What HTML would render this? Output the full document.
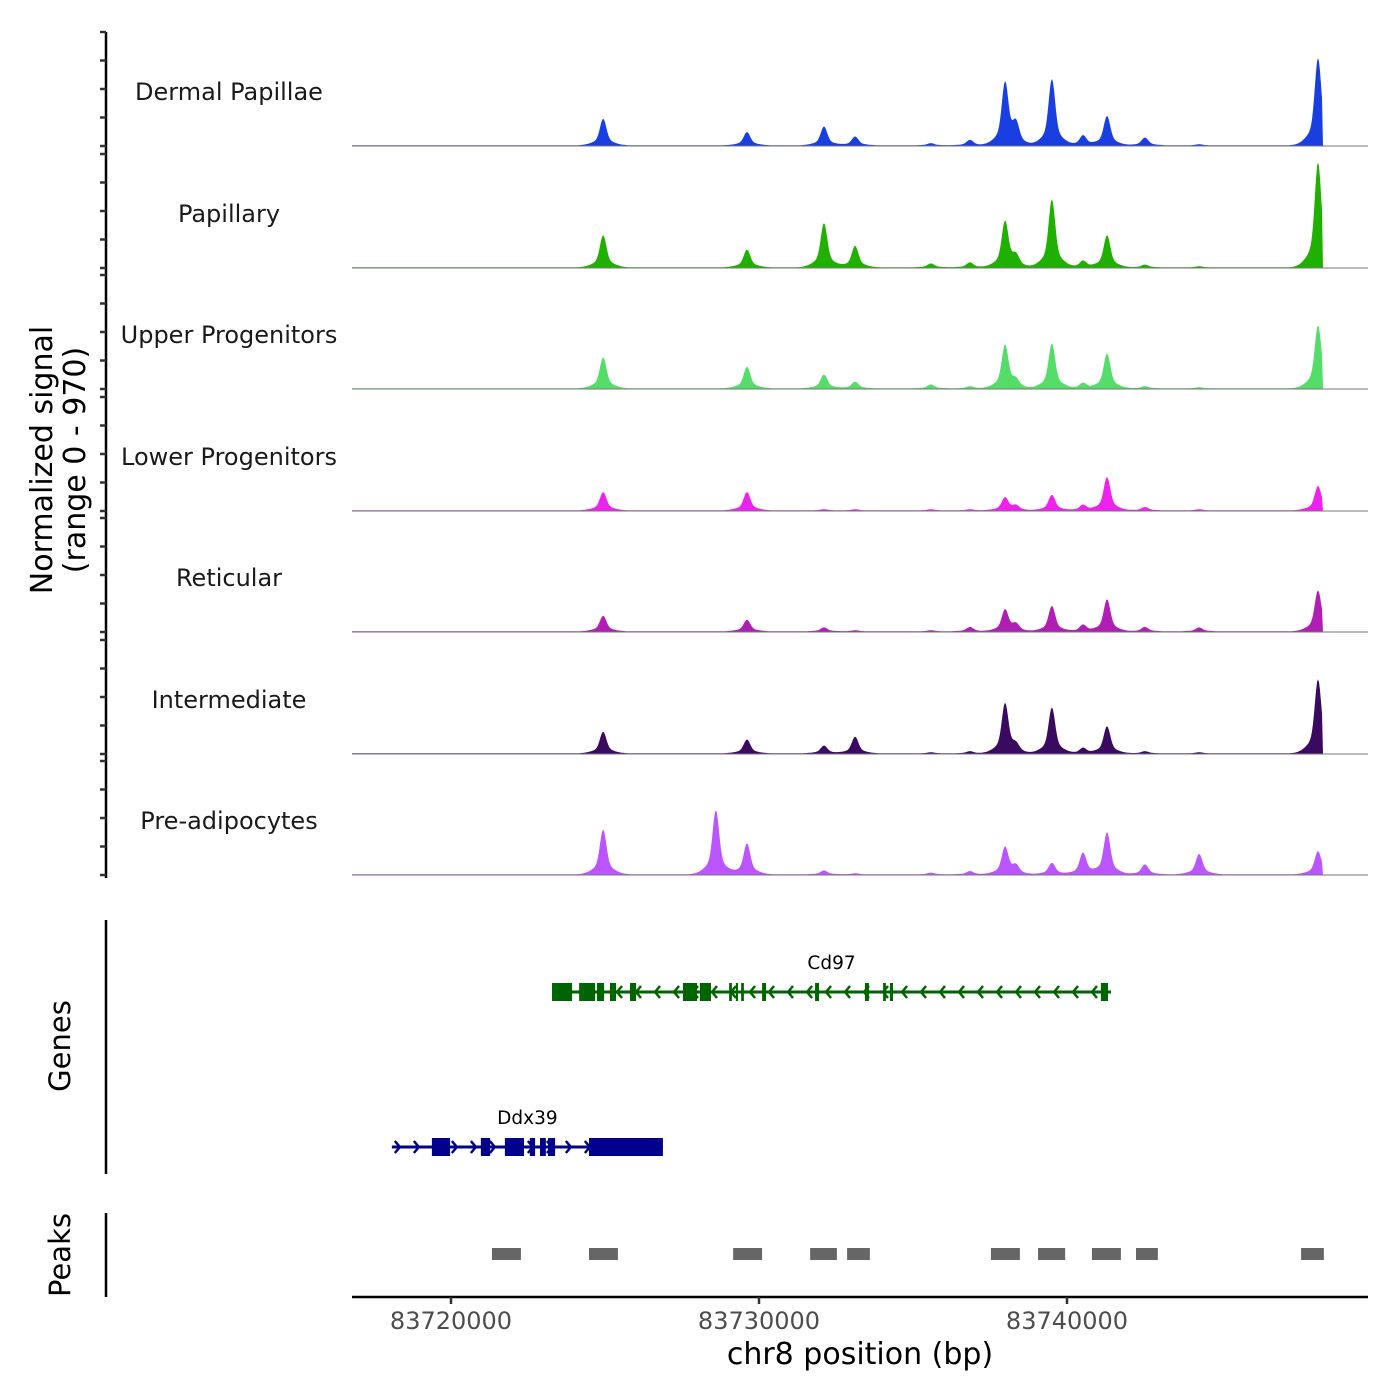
<!DOCTYPE html>
<html><head><meta charset="utf-8"><style>
body{margin:0;background:#fff}
svg{display:block;font-family:"DejaVu Sans","Liberation Sans",sans-serif}
</style></head><body>
<svg id="c" width="1400" height="1400" viewBox="0 0 1400 1400"></svg>
<script>
// ---- data (positions in kb relative to 83720000) ----
const tracks = ["Dermal Papillae","Papillary","Upper Progenitors","Lower Progenitors","Reticular","Intermediate","Pre-adipocytes"];
const trackColors = ["#1a3fe0","#1fb000","#55dd6a","#ee22ee","#b01eb5","#3a0a60","#bb55ff"];
const peakCenters = [4.94,8.60,9.61,12.11,13.12,15.58,16.85,17.99,18.34,19.51,20.52,21.30,22.53,24.29,28.15];
const dermalVals = [240,0,120,170,80,20,50,560,175,600,90,265,70,10,790];
const papillaryVals = [290,0,160,400,195,35,45,415,90,615,60,290,25,10,950];
const upperVals = [280,0,195,125,60,35,20,390,60,405,50,315,20,10,570];
const lowerVals = [165,0,165,10,10,10,10,115,40,140,50,300,30,10,220];
const reticularVals = [140,0,105,35,10,10,40,195,60,230,60,290,40,35,370];
const intermediateVals = [195,0,125,70,150,10,20,450,60,415,50,245,20,10,670];
const preadipoVals = [405,580,280,35,10,15,30,245,70,105,195,380,90,185,210];
const seriesVals = [dermalVals,papillaryVals,upperVals,lowerVals,reticularVals,intermediateVals,preadipoVals];
const xTicks = [0,10,20];
const xTickLabels = ["83720000","83730000","83740000"];
const yTicks = [0,250,500,750,1000];
const cd97Span = [3.28,21.43];
const cd97Exons = [[3.28,3.93],[4.16,4.68],[4.74,4.97],[5.16,5.36],[5.81,6.01],[7.53,7.99],[8.08,8.44],[9.03,9.12],[9.25,9.32],[9.42,9.51],[10.10,10.23],[11.82,11.95],[13.44,13.57],[14.03,14.12],[14.25,14.35],[21.10,21.33]];
const ddx39Span = [-1.92,6.88];
const ddx39Exons = [[-0.62,-0.03],[0.97,1.27],[1.75,2.37],[2.56,2.73],[2.89,3.08],[3.15,3.38],[4.48,6.88]];
const peakRegions = [[1.33,2.27],[4.48,5.42],[9.16,10.10],[11.66,12.53],[12.86,13.60],[17.53,18.47],[19.06,19.94],[20.81,21.75],[22.24,22.95],[27.60,28.34]];

// ---- scales ----
const X0=352,X1=1368;
const x = kb => 451 + kb*30.8;
const kbOf = px => (px-451)/30.8;
const baselines=[146,268,389,511,632,754,875];
const yPer = 28.5/250;
const NS="http://www.w3.org/2000/svg";
const svg=document.getElementById('c');
function mk(tag,attrs,parent){const e=document.createElementNS(NS,tag);for(const k in attrs)e.setAttribute(k,attrs[k]);(parent||svg).appendChild(e);return e;}

// left axis
const axG=mk('g',{});


mk('line',{x1:106,y1:32,x2:106,y2:878,stroke:'#000','stroke-width':2.5},axG);
baselines.forEach(b=>{yTicks.forEach(v=>{const yy=b-v*yPer;const t=mk('line',{x1:100,y1:yy,x2:106,y2:yy,stroke:'#333','stroke-width':2.5},axG);

});});

// tracks
tracks.forEach((name,i)=>{
  const g=mk('g',{});
  
  
  const b=baselines[i], vals=seriesVals[i];
  let d='M'+X0+','+b;
  for(let px=X0;px<=1322;px+=1){
    const k=kbOf(px);let s=6;
    peakCenters.forEach((c,j)=>{const v=vals[j];if(!v)return;
      const dd=k-c;s+=v*0.75*Math.exp(-dd*dd/(2*0.1*0.1))+v*0.22*Math.exp(-dd*dd/(2*0.3*0.3));});
    d+=' L'+px+','+(b-Math.min(s,1020)*yPer).toFixed(1);
  }
  d+=' L1323,'+b+' Z';
  const p=mk('path',{d:d,fill:trackColors[i]},g);
  
  
  const bl=mk('line',{x1:X0,y1:b,x2:X1,y2:b,stroke:'#777','stroke-width':1},g);
  
  
  const t=mk('text',{x:229,y:b-46,'text-anchor':'middle','font-size':24,fill:'#1a1a1a'},g);
  t.textContent=name;
  
  
});

// y title
const yt=mk('text',{transform:'translate(52,460) rotate(-90)','text-anchor':'middle','font-size':30,fill:'#000'});


const ts1=mk('tspan',{x:0,dy:0},yt);ts1.textContent='Normalized signal';
const ts2=mk('tspan',{x:0,dy:33},yt);ts2.textContent='(range 0 - 970)';

// gene track
const gAx=mk('line',{x1:106,y1:920,x2:106,y2:1174,stroke:'#000','stroke-width':2.5});


const gl=mk('text',{transform:'translate(70,1046) rotate(-90)','text-anchor':'middle','font-size':29,fill:'#000'});
gl.textContent='Genes';


function gene(name,span,exons,y,color,strand){
  const g=mk('g',{});
  
  
  mk('line',{x1:x(span[0]),y1:y,x2:x(span[1]),y2:y,stroke:color,'stroke-width':3},g);
  for(let px=x(span[0])+8;px<x(span[1])-4;px+=19){
    const dx=strand>0?-5:5;
    mk('polyline',{points:(px+dx)+','+(y-6)+' '+px+','+y+' '+(px+dx)+','+(y+6),fill:'none',stroke:color,'stroke-width':2.5},g);
  }
  exons.forEach(e=>{const r=mk('rect',{x:x(e[0]),y:y-9,width:Math.max(2,x(e[1])-x(e[0])),height:18,fill:color},g);
    
    });
  const t=mk('text',{x:(x(span[0])+x(span[1]))/2,y:y-23,'text-anchor':'middle','font-size':18.5,fill:'#000'},g);
  t.textContent=name;
}
gene('Cd97',cd97Span,cd97Exons,992,'#006400',-1);
gene('Ddx39',ddx39Span,ddx39Exons,1147,'#00008b',1);

// peaks
const pAx=mk('line',{x1:106,y1:1213,x2:106,y2:1297,stroke:'#000','stroke-width':2.5});


const pl=mk('text',{transform:'translate(70,1255) rotate(-90)','text-anchor':'middle','font-size':29,fill:'#000'});
pl.textContent='Peaks';


peakRegions.forEach(r=>{const e=mk('rect',{x:x(r[0]),y:1248,width:x(r[1])-x(r[0]),height:12,fill:'#666'});
  
  });

// x axis
const xa=mk('line',{x1:X0,y1:1297,x2:X1,y2:1297,stroke:'#000','stroke-width':2.5});


xTicks.forEach((v,i)=>{mk('line',{x1:x(v),y1:1297,x2:x(v),y2:1304,stroke:'#333','stroke-width':2.5});
  const t=mk('text',{x:x(v),y:1329,'text-anchor':'middle','font-size':24,fill:'#4d4d4d'});
  t.textContent=xTickLabels[i];
  
  });
const xt=mk('text',{x:860,y:1364,'text-anchor':'middle','font-size':30,fill:'#000'});
xt.textContent='chr8 position (bp)';


</script>
</body></html>
